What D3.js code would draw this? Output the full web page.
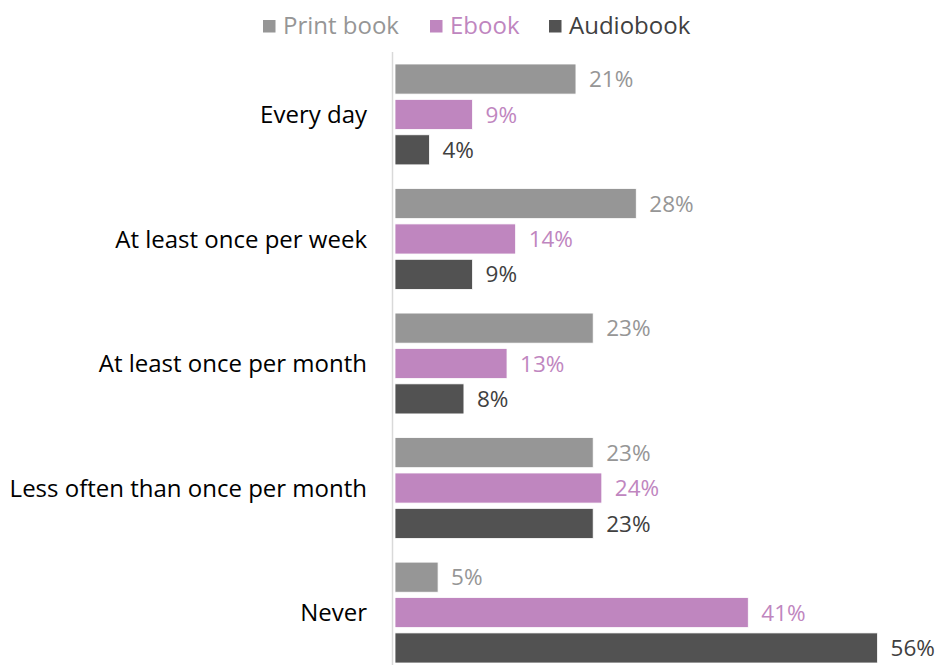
<!DOCTYPE html>
<html>
<head>
<meta charset="utf-8">
<script src="https://cdn.jsdelivr.net/npm/d3@7"></script>
<style>
  html, body { margin: 0; padding: 0; background: #fff; }
  svg { display: block; font-family: "Open Sans", Lato, "Noto Sans", sans-serif; }
</style>
</head>
<body>
<svg id="chart" width="937" height="665"></svg>
<script>
// Reading frequency by format (share of respondents, %)
const categories = ["Every day", "At least once per week", "At least once per month", "Less often than once per month", "Never"];
const seriesNames = ["Print book", "Ebook", "Audiobook"];
const printBook = [21, 28, 23, 23, 5];
const ebook = [9, 14, 13, 24, 41];
const audiobook = [4, 9, 8, 23, 56];
const seriesColors = ["#969696", "#bf86bf", "#525252"];
const labelColors = ["#969696", "#bf86bf", "#404040"];

const seriesValues = [printBook, ebook, audiobook];
const rows = categories.map((c, i) => ({
  category: c,
  values: seriesNames.map((s, k) => ({ series: s, k, value: seriesValues[k][i] }))
}));

const svg = d3.select("#chart");

const x = d3.scaleLinear().domain([0, 60]).range([395, 912]);
const y = d3.scaleBand().domain(categories).range([64, 663]).paddingInner(0.19).paddingOuter(0);
const ySub = d3.scaleBand().domain(seriesNames).range([0, y.bandwidth()]).paddingInner(0.15);

// vertical category axis line
svg.append("line")
  .attr("x1", 392.5).attr("x2", 392.5)
  .attr("y1", 52).attr("y2", 665)
  .attr("stroke", "#d9d9d9").attr("stroke-width", 1.5);

const groups = svg.selectAll("g.grp").data(rows).join("g")
  .attr("class", "grp")
  .attr("transform", d => `translate(0,${y(d.category)})`);

groups.selectAll("rect").data(d => d.values).join("rect")
  .attr("x", x(0))
  .attr("y", d => ySub(d.series))
  .attr("width", d => x(d.value) - x(0))
  .attr("height", ySub.bandwidth())
  .attr("fill", d => seriesColors[d.k])
  .attr("stroke", "#ffffff").attr("stroke-width", 0.8);

groups.selectAll("text.val").data(d => d.values).join("text")
  .attr("class", "val")
  .attr("x", d => x(d.value) + 13)
  .attr("y", d => ySub(d.series) + ySub.bandwidth() / 2)
  .attr("dy", "0.36em")
  .attr("font-size", 22.5)
  .attr("fill", d => labelColors[d.k])
  .text(d => d.value + "%");

// category labels
svg.selectAll("text.cat").data(categories).join("text")
  .attr("class", "cat")
  .attr("x", 367)
  .attr("y", d => y(d) + y.bandwidth() / 2)
  .attr("dy", "0.36em")
  .attr("text-anchor", "end")
  .attr("font-size", 24)
  .attr("fill", "#000")
  .text(d => d);

// legend
const legendX = [263, 430, 549];
const legend = svg.selectAll("g.leg").data(seriesNames).join("g")
  .attr("class", "leg")
  .attr("transform", (d, i) => `translate(${legendX[i]},0)`);
legend.append("rect")
  .attr("x", 0).attr("y", 20).attr("width", 12.5).attr("height", 12.5)
  .attr("fill", (d, i) => seriesColors[i]);
legend.append("text")
  .attr("x", 20).attr("y", 25.5).attr("dy", "0.36em")
  .attr("font-size", 24)
  .attr("fill", (d, i) => i === 2 ? "#404040" : seriesColors[i])
  .text(d => d);
</script>
</body>
</html>
